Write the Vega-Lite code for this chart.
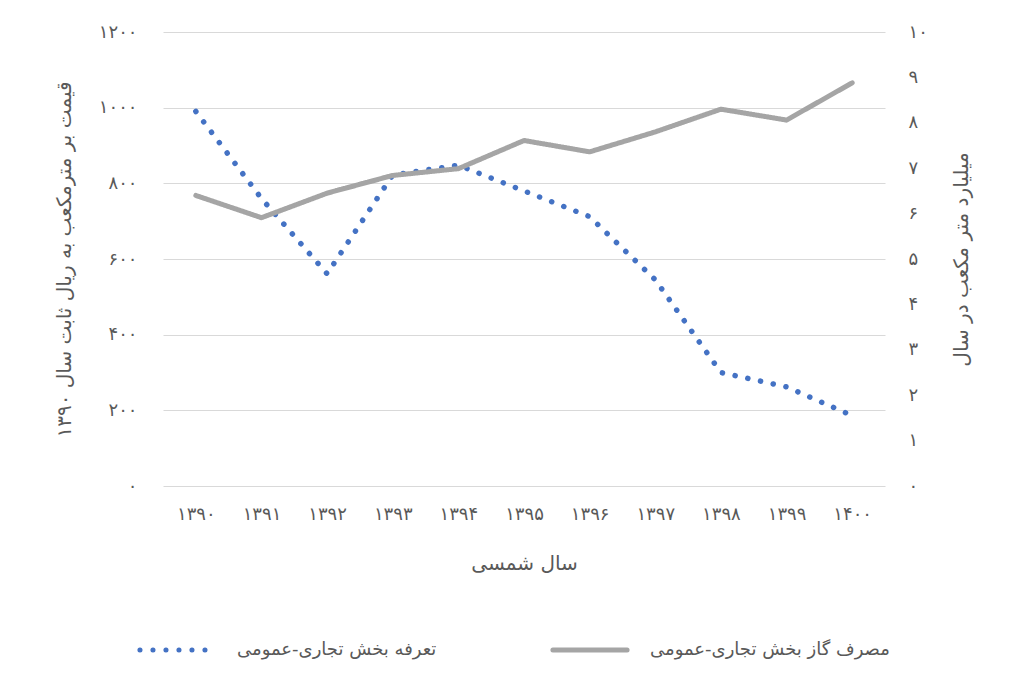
{
  "$schema": "https://vega.github.io/schema/vega-lite/v6.json",
  "width": 722,
  "height": 454,
  "autosize": {"type": "none"},
  "padding": {"left": 163, "top": 32, "right": 139, "bottom": 200},
  "background": "white",
  "data": {
    "values": [
      {"year": 1390, "series": "تعرفه بخش تجاری-عمومی", "value": 990},
      {"year": 1391, "series": "تعرفه بخش تجاری-عمومی", "value": 760},
      {"year": 1392, "series": "تعرفه بخش تجاری-عمومی", "value": 561},
      {"year": 1393, "series": "تعرفه بخش تجاری-عمومی", "value": 822},
      {"year": 1394, "series": "تعرفه بخش تجاری-عمومی", "value": 848},
      {"year": 1395, "series": "تعرفه بخش تجاری-عمومی", "value": 780},
      {"year": 1396, "series": "تعرفه بخش تجاری-عمومی", "value": 712},
      {"year": 1397, "series": "تعرفه بخش تجاری-عمومی", "value": 545},
      {"year": 1398, "series": "تعرفه بخش تجاری-عمومی", "value": 300},
      {"year": 1399, "series": "تعرفه بخش تجاری-عمومی", "value": 262},
      {"year": 1400, "series": "تعرفه بخش تجاری-عمومی", "value": 186},
      {"year": 1390, "series": "مصرف گاز بخش تجاری-عمومی", "value": 6.4},
      {"year": 1391, "series": "مصرف گاز بخش تجاری-عمومی", "value": 5.91},
      {"year": 1392, "series": "مصرف گاز بخش تجاری-عمومی", "value": 6.45},
      {"year": 1393, "series": "مصرف گاز بخش تجاری-عمومی", "value": 6.84},
      {"year": 1394, "series": "مصرف گاز بخش تجاری-عمومی", "value": 6.99},
      {"year": 1395, "series": "مصرف گاز بخش تجاری-عمومی", "value": 7.61},
      {"year": 1396, "series": "مصرف گاز بخش تجاری-عمومی", "value": 7.36},
      {"year": 1397, "series": "مصرف گاز بخش تجاری-عمومی", "value": 7.8},
      {"year": 1398, "series": "مصرف گاز بخش تجاری-عمومی", "value": 8.3},
      {"year": 1399, "series": "مصرف گاز بخش تجاری-عمومی", "value": 8.06},
      {"year": 1400, "series": "مصرف گاز بخش تجاری-عمومی", "value": 8.88}
    ]
  },
  "encoding": {
    "x": {
      "field": "year",
      "type": "ordinal",
      "scale": {"type": "point", "padding": 0.5},
      "axis": {
        "title": "سال شمسی",
        "labelAngle": 0,
        "labelPadding": 19,
        "titlePadding": 30,
        "ticks": false,
        "domain": false,
        "labelExpr": "replace(replace(replace(replace(replace(replace(replace(replace(replace(replace(datum.label,/0/g,'۰'),/1/g,'۱'),/2/g,'۲'),/3/g,'۳'),/4/g,'۴'),/5/g,'۵'),/6/g,'۶'),/7/g,'۷'),/8/g,'۸'),/9/g,'۹')"
      }
    },
    "color": {
      "field": "series",
      "type": "nominal",
      "scale": {
        "domain": ["تعرفه بخش تجاری-عمومی", "مصرف گاز بخش تجاری-عمومی"],
        "range": ["#4472C4", "#A5A5A5"]
      },
      "legend": {
        "title": null,
        "orient": "none",
        "direction": "horizontal",
        "legendX": -26,
        "legendY": 578,
        "symbolType": "stroke",
        "symbolSize": 5500,
        "symbolStrokeWidth": 5,
        "labelOffset": 20,
        "columnPadding": 105,
        "labelLimit": 400,
        "encode": {"symbols": {"update": {"strokeCap": {"value": "round"}}}}
      }
    },
    "strokeDash": {
      "field": "series",
      "type": "nominal",
      "scale": {
        "domain": ["تعرفه بخش تجاری-عمومی", "مصرف گاز بخش تجاری-عمومی"],
        "range": [[0.1, 12.9], [1, 0]]
      },
      "legend": {
        "title": null,
        "orient": "none",
        "direction": "horizontal",
        "legendX": -26,
        "legendY": 578,
        "symbolType": "stroke",
        "symbolSize": 5500,
        "symbolStrokeWidth": 5,
        "labelOffset": 20,
        "columnPadding": 105,
        "labelLimit": 400,
        "encode": {"symbols": {"update": {"strokeCap": {"value": "round"}}}}
      }
    }
  },
  "layer": [
    {
      "transform": [{"filter": "datum.series === 'تعرفه بخش تجاری-عمومی'"}],
      "mark": {"type": "line", "strokeWidth": 5.5, "strokeCap": "round"},
      "encoding": {
        "y": {
          "field": "value",
          "type": "quantitative",
          "scale": {"domain": [0, 1200]},
          "axis": {
            "title": "قیمت بر مترمکعب به ریال ثابت سال ۱۳۹۰",
            "orient": "left",
            "values": [0, 200, 400, 600, 800, 1000, 1200],
            "format": "d",
            "labelPadding": 26,
            "titlePadding": 24,
            "ticks": false,
            "domain": false,
            "grid": true,
            "labelExpr": "replace(replace(replace(replace(replace(replace(replace(replace(replace(replace(datum.label,/0/g,'۰'),/1/g,'۱'),/2/g,'۲'),/3/g,'۳'),/4/g,'۴'),/5/g,'۵'),/6/g,'۶'),/7/g,'۷'),/8/g,'۸'),/9/g,'۹')"
          }
        }
      }
    },
    {
      "transform": [{"filter": "datum.series === 'مصرف گاز بخش تجاری-عمومی'"}],
      "mark": {"type": "line", "strokeWidth": 5, "strokeCap": "round", "strokeJoin": "round"},
      "encoding": {
        "y": {
          "field": "value",
          "type": "quantitative",
          "scale": {"domain": [0, 10]},
          "axis": {
            "title": "میلیارد متر مکعب در سال",
            "orient": "right",
            "values": [0, 1, 2, 3, 4, 5, 6, 7, 8, 9, 10],
            "format": "d",
            "labelPadding": 23,
            "titlePadding": 44,
            "titleAngle": -90,
            "ticks": false,
            "domain": false,
            "grid": false,
            "labelExpr": "replace(replace(replace(replace(replace(replace(replace(replace(replace(replace(datum.label,/0/g,'۰'),/1/g,'۱'),/2/g,'۲'),/3/g,'۳'),/4/g,'۴'),/5/g,'۵'),/6/g,'۶'),/7/g,'۷'),/8/g,'۸'),/9/g,'۹')"
          }
        }
      }
    }
  ],
  "resolve": {"scale": {"y": "independent"}},
  "config": {
    "font": "DejaVu Sans",
    "view": {"stroke": null},
    "axis": {
      "labelColor": "#595959",
      "titleColor": "#595959",
      "labelFontSize": 18,
      "titleFontSize": 20,
      "titleFontWeight": "normal",
      "gridColor": "#d9d9d9",
      "gridWidth": 1
    },
    "legend": {
      "labelColor": "#595959",
      "labelFontSize": 18
    }
  }
}
